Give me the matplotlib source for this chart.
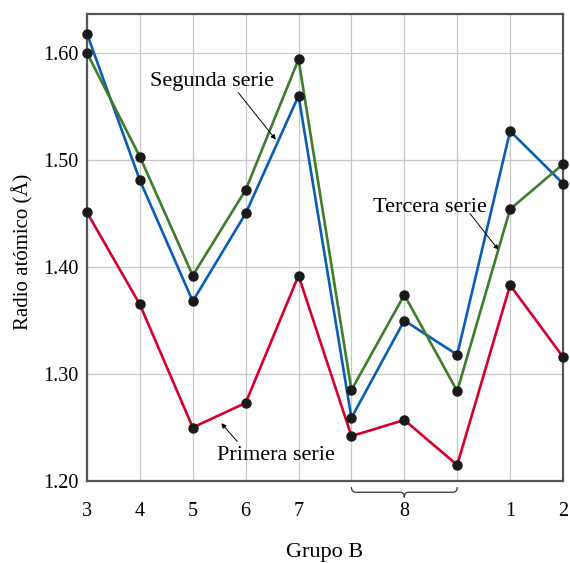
import numpy as np
import matplotlib
matplotlib.use("Agg")
import matplotlib.pyplot as plt
from matplotlib.path import Path
from matplotlib.patches import PathPatch
import matplotlib.transforms as mtransforms

plt.rcParams['font.family'] = ['Liberation Serif', 'DejaVu Serif']

# data
positions = [0, 1, 2, 3, 4, 5, 6, 7, 8, 9]
tick_pos = [0, 1, 2, 3, 4, 6, 8, 9]
tick_labels = ["3", "4", "5", "6", "7", "8", "1", "2"]
primera = [1.451, 1.365, 1.250, 1.273, 1.392, 1.242, 1.257, 1.215, 1.383, 1.316]
segunda = [1.618, 1.481, 1.368, 1.450, 1.560, 1.259, 1.350, 1.318, 1.527, 1.478]
tercera = [1.600, 1.503, 1.392, 1.472, 1.594, 1.285, 1.374, 1.284, 1.454, 1.496]
yticks = [1.20, 1.30, 1.40, 1.50, 1.60]

red = "#d7002b"
blue = "#0a5db5"
green = "#3d7d2b"

fig = plt.figure(figsize=(5.7, 5.63), dpi=100)
ax = fig.add_axes([0.1526, 0.1456, 0.8351, 0.8295])

for ys, c in [(primera, red), (segunda, blue), (tercera, green)]:
    ax.plot(positions, ys, '-', color=c, lw=1.9, zorder=3)
    ax.plot(positions, ys, 'o', color='#1a1a1a', ms=6.5, zorder=4,
            clip_on=False)

ax.set_xlim(0, 9)
ax.set_ylim(1.20, 1.6364)
ax.set_yticks(yticks)
ax.set_yticklabels(["%.2f" % v for v in yticks])
ax.set_xticks(tick_pos)
ax.set_xticklabels(tick_labels)
ax.set_xticks(positions, minor=True)
ax.grid(True, which='both', color='#c8c8c8', lw=0.9, zorder=0)
ax.tick_params(axis='both', which='both', length=0, labelsize=14.5)
ax.tick_params(axis='x', pad=15)
ax.tick_params(axis='y', pad=6)
for s in ax.spines.values():
    s.set_color('#555555')
    s.set_linewidth(1.6)

fs = 16
ax.set_ylabel("Radio atómico (Å)", fontsize=15)
ax.yaxis.set_label_coords(-0.113, 0.49)
ax.set_xlabel("Grupo B", fontsize=fs)
ax.xaxis.set_label_coords(0.5, -0.132)

# brace under group 8
trans = mtransforms.blended_transform_factory(ax.transData, ax.transAxes)
y0, y1, y2 = -0.013, -0.024, -0.035
verts = [(5, y0), (5, y1), (5.08, y1),
         (5.92, y1), (6, y1), (6, y2),
         (6, y1), (6.08, y1),
         (6.92, y1), (7, y1), (7, y0)]
codes = [Path.MOVETO, Path.CURVE3, Path.CURVE3,
         Path.LINETO, Path.CURVE3, Path.CURVE3,
         Path.CURVE3, Path.CURVE3,
         Path.LINETO, Path.CURVE3, Path.CURVE3]
brace = PathPatch(Path(verts, codes), transform=trans, fill=False,
                  lw=0.9, color='#333333', clip_on=False)
ax.add_patch(brace)

arrow = dict(arrowstyle='-|>', color='black', lw=0.7,
             mutation_scale=7, shrinkA=0, shrinkB=0)
ax.text(2.36, 1.573, "Segunda serie", ha='center', va='center',
        fontsize=fs, zorder=5)
ax.annotate("", xy=(3.57, 1.519), xytext=(2.86, 1.563), arrowprops=arrow)
ax.text(6.48, 1.456, "Tercera serie", ha='center', va='center',
        fontsize=fs, zorder=5)
ax.annotate("", xy=(7.78, 1.416), xytext=(7.24, 1.450), arrowprops=arrow)
ax.text(3.57, 1.224, "Primera serie", ha='center', va='center',
        fontsize=fs, zorder=5)
ax.annotate("", xy=(2.54, 1.254), xytext=(2.84, 1.237), arrowprops=arrow)

fig.savefig("out.png", dpi=100)
